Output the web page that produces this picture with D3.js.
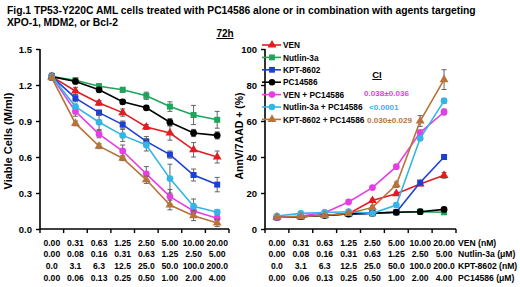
<!DOCTYPE html>
<html>
<head>
<meta charset="utf-8">
<script src="https://cdn.jsdelivr.net/npm/d3@7"></script>
<style>
  html, body { margin: 0; padding: 0; background: #fff; }
  svg text { font-family: "Liberation Sans", Arial, sans-serif; font-weight: 700; }
</style>
</head>
<body>
<div id="chart"></div>
<script>
// ---- data ----
const venNM      = ['0.00', '0.31', '0.63', '1.25', '2.50', '5.00', '10.00', '20.00'];
const nutlinUM   = ['0.00', '0.08', '0.16', '0.31', '0.63', '1.25', '2.50', '5.00'];
const kptNM      = ['0.0', '3.1', '6.3', '12.5', '25.0', '50.0', '100.0', '200.0'];
const pcUM       = ['0.00', '0.06', '0.13', '0.25', '0.50', '1.00', '2.00', '4.00'];
const doseRows   = [venNM, nutlinUM, kptNM, pcUM];
const rowNames   = ['VEN (nM)', 'Nutlin-3a (\u03bcM)', 'KPT-8602 (nM)', 'PC14586 (\u03bcM)'];

const seriesNames = ['VEN', 'Nutlin-3a', 'KPT-8602', 'PC14586',
  'VEN + PC14586', 'Nutlin-3a + PC14586', 'KPT-8602 + PC14586'];

// viable cells (M/ml)
const viable = [
  [1.27, 1.15, 1.05, 0.97, 0.85, 0.80, 0.66, 0.60],
  [1.27, 1.24, 1.19, 1.16, 1.11, 1.02, 0.95, 0.91],
  [1.27, 1.09, 0.97, 0.87, 0.73, 0.62, 0.45, 0.37],
  [1.27, 1.23, 1.16, 1.06, 1.01, 0.89, 0.80, 0.78],
  [1.27, 0.98, 0.79, 0.65, 0.46, 0.27, 0.15, 0.09],
  [1.27, 1.02, 0.89, 0.78, 0.70, 0.42, 0.19, 0.14],
  [1.26, 0.88, 0.69, 0.59, 0.41, 0.20, 0.11, 0.05]
];
const viableErr = [
  [0.02, 0.03, 0.02, 0.03, 0.02, 0.06, 0.06, 0.05],
  [0.02, 0.02, 0.02, 0.02, 0.03, 0.04, 0.08, 0.07],
  [0.02, 0.03, 0.02, 0.03, 0.04, 0.03, 0.05, 0.06],
  [0.02, 0.02, 0.02, 0.02, 0.02, 0.03, 0.03, 0.03],
  [0.02, 0.04, 0.03, 0.05, 0.06, 0.06, 0.04, 0.02],
  [0.03, 0.02, 0.06, 0.05, 0.05, 0.12, 0.06, 0.02],
  [0.02, 0.02, 0.02, 0.02, 0.03, 0.04, 0.04, 0.03]
];

// AnnV/7AAD+ (%)
const annv = [
  [6.5, 6.9, 7.6, 8.5, 15.8, 19.6, 25.0, 29.8],
  [6.5, 6.9, 7.6, 8.3, 8.8, 9.3, 9.6, 9.3],
  [6.5, 6.9, 7.6, 8.3, 8.7, 9.3, 25.8, 40.0],
  [6.5, 6.9, 7.6, 8.3, 8.8, 9.3, 9.6, 10.9],
  [6.5, 7.2, 9.0, 15.0, 23.0, 34.6, 53.6, 65.0],
  [7.2, 8.7, 9.2, 9.6, 8.7, 13.3, 50.4, 71.2],
  [6.5, 6.9, 7.6, 8.6, 12.0, 24.6, 60.0, 83.0]
];
const annvErr = [
  [0.4, 0.4, 0.4, 0.5, 0.8, 0.8, 1.0, 1.6],
  [0.4, 0.4, 0.4, 0.4, 0.4, 0.5, 0.5, 0.5],
  [0.4, 0.4, 0.4, 0.4, 0.4, 0.5, 0.8, 0.8],
  [0.4, 0.4, 0.4, 0.4, 0.4, 0.5, 0.5, 0.6],
  [0.4, 0.4, 0.5, 0.6, 0.8, 1.0, 1.4, 1.6],
  [0.4, 0.5, 0.5, 0.5, 0.5, 1.0, 1.2, 1.4],
  [0.4, 0.4, 0.4, 0.5, 0.8, 1.5, 3.0, 5.5]
];

const ciLabels = ['0.038\u00b10.036', '<0.0001', '0.030\u00b10.029'];

// ---- style ----
const colors  = ['#e31b23', '#1fa55a', '#1d3fd6', '#000000', '#e43fe4', '#35b5e6', '#b8733a'];
const symbols = [d3.symbolTriangle, d3.symbolSquare, d3.symbolSquare, d3.symbolCircle,
  d3.symbolCircle, d3.symbolCircle, d3.symbolTriangle];

const W = 520, H = 287;
const svg = d3.select('#chart').append('svg')
  .attr('width', W).attr('height', H)
  .attr('viewBox', `0 0 ${W} ${H}`);

// title
const title = svg.append('text').attr('x', 7).attr('font-size', 10.3);
title.append('tspan').attr('x', 7).attr('y', 14)
  .text('Fig.1 TP53-Y220C AML cells treated with PC14586 alone or in combination with agents targeting');
title.append('tspan').attr('x', 7).attr('y', 26).text('XPO-1, MDM2, or Bcl-2');

svg.append('text').attr('x', 225).attr('y', 37).attr('text-anchor', 'middle')
  .attr('font-size', 10).attr('text-decoration', 'underline').text('72h');

const ids = d3.range(8);

function panel(opts) {
  const x = d3.scaleBand().domain(ids).range([opts.x0, opts.x1]);
  const y = d3.scaleLinear().domain([0, opts.ymax]).range([229, 49]);
  const g = svg.append('g');

  // y axis
  const ya = g.append('g').attr('transform', `translate(${opts.x0},0)`)
    .call(d3.axisLeft(y).tickValues(opts.yticks).tickFormat(opts.fmt).tickSize(4).tickPadding(4));
  ya.select('.domain').attr('d', `M0,${y(0)}V${y(opts.ymax)}`).attr('stroke-width', 1.6);
  ya.selectAll('.tick line').attr('stroke-width', 1.4);
  ya.selectAll('.tick text').attr('font-size', 9.5).attr('fill', '#000')
    .style('font-family', '"Liberation Sans", Arial, sans-serif').style('font-weight', 700);

  // x axis: baseline plus ticks at band edges
  g.append('line').attr('x1', opts.x0).attr('x2', opts.x1)
    .attr('y1', y(0)).attr('y2', y(0)).attr('stroke', '#000').attr('stroke-width', 1.6);
  g.selectAll('line.xt').data(d3.range(9)).join('line').attr('class', 'xt')
    .attr('x1', i => opts.x0 + i * x.bandwidth()).attr('x2', i => opts.x0 + i * x.bandwidth())
    .attr('y1', y(0)).attr('y2', y(0) + 4).attr('stroke', '#000').attr('stroke-width', 1.4);

  // dose table
  doseRows.forEach((row, r) => {
    g.selectAll(null).data(row).join('text')
      .attr('x', (d, i) => x(i) + x.bandwidth() / 2)
      .attr('y', 245.5 + r * 11.7)
      .attr('text-anchor', 'middle').attr('font-size', 8.6)
      .text(d => d);
  });

  // axis title
  g.append('text')
    .attr('transform', `translate(${opts.labX},${opts.labY}) rotate(-90)`)
    .attr('text-anchor', 'middle').attr('font-size', opts.labSize).text(opts.label);

  const cx = i => x(i) + x.bandwidth() / 2;
  opts.values.forEach((vals, s) => {
    const sg = g.append('g');
    // error bars
    sg.selectAll('path.err').data(vals).join('path').attr('class', 'err')
      .attr('d', (v, i) => {
        const e = opts.errs[s][i];
        const a = y(v - e), b = y(v + e), c = cx(i);
        return `M${c},${a}V${b}M${c - 2.5},${a}H${c + 2.5}M${c - 2.5},${b}H${c + 2.5}`;
      })
      .attr('stroke', '#555').attr('stroke-width', 0.9).attr('fill', 'none');
    sg.append('path').datum(vals)
      .attr('d', d3.line().x((v, i) => cx(i)).y(v => y(v)))
      .attr('fill', 'none').attr('stroke', colors[s]).attr('stroke-width', 1.6);
    sg.selectAll('path.pt').data(vals).join('path').attr('class', 'pt')
      .attr('transform', (v, i) => `translate(${cx(i)},${y(v)})`)
      .attr('d', d3.symbol(symbols[s], symbols[s] === d3.symbolTriangle ? 34 : 36))
      .attr('fill', colors[s]);
  });
  return { x, y };
}

panel({
  x0: 40, x1: 229, ymax: 1.5, yticks: [0, 0.3, 0.6, 0.9, 1.2, 1.5], fmt: d3.format('.1f'),
  values: viable, errs: viableErr, label: 'Viable Cells (M/ml)', labX: 12, labY: 141, labSize: 11
});
panel({
  x0: 265, x1: 456, ymax: 100, yticks: [0, 20, 40, 60, 80, 100], fmt: d3.format('d'),
  values: annv, errs: annvErr, label: 'AnnV/7AAD + (%)', labX: 243, labY: 136, labSize: 10.5
});

// dose row names
rowNames.forEach((n, r) => {
  svg.append('text').attr('x', 458).attr('y', 245.5 + r * 11.7)
    .attr('font-size', 8.6).text(n);
});

// legend
const leg = svg.append('g');
seriesNames.forEach((n, s) => {
  const ly = 45 + s * 12.4;
  leg.append('line').attr('x1', 262).attr('x2', 281).attr('y1', ly).attr('y2', ly)
    .attr('stroke', colors[s]).attr('stroke-width', 1.6);
  leg.append('path').attr('transform', `translate(272,${ly})`)
    .attr('d', d3.symbol(symbols[s], 34)).attr('fill', colors[s]);
  leg.append('text').attr('x', 283).attr('y', ly + 3.2).attr('font-size', 8.3).text(n);
});

// CI
svg.append('text').attr('x', 377).attr('y', 78).attr('text-anchor', 'middle')
  .attr('font-size', 9.5).attr('text-decoration', 'underline').text('CI');
ciLabels.forEach((t, i) => {
  svg.append('text').attr('x', [364, 369, 367][i]).attr('y', 96 + i * 13.5)
    .attr('font-size', 8.1).attr('fill', colors[4 + i]).text(t);
});
</script>
</body>
</html>
